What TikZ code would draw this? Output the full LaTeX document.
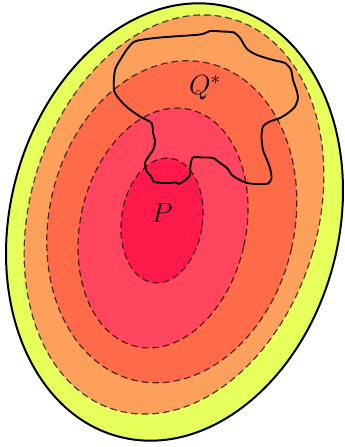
\documentclass[tikz,border=0pt]{standalone}
\begin{document}
\begin{tikzpicture}[x=0.75pt,y=-0.75pt,
  contour/.style={draw=black, draw opacity=0.7, line width=0.9pt, dash pattern=on 5pt off 3pt},
  lbl/.style={font=\fontsize{22}{24}\selectfont, inner sep=0pt}]
\definecolor{cyellow}{RGB}{230,255,90}
\definecolor{corange}{RGB}{252,160,92}
\definecolor{ctomato}{RGB}{255,106,72}
\definecolor{cpink}{RGB}{255,70,94}
\definecolor{ccrimson}{RGB}{255,26,75}
\useasboundingbox (0,0) rectangle (344,447);
% nested regions
\fill[cyellow] (174.5,222) ellipse [x radius=123.3pt, y radius=166.3pt, rotate=-14.3];
\fill[corange] (174,214.5) ellipse [x radius=107.8pt, y radius=153pt, rotate=-17];
\fill[ctomato] (171.8,221.8) ellipse [x radius=92pt, y radius=122.1pt, rotate=-13];
\fill[cpink] (163,228) ellipse [x radius=62.1pt, y radius=91.1pt, rotate=-12.5];
\fill[ccrimson] (162,220.5) ellipse [x radius=30.4pt, y radius=47.1pt, rotate=-8];
\draw[contour] (174,214.5) ellipse [x radius=107.8pt, y radius=153pt, rotate=-17];
\draw[contour] (171.8,221.8) ellipse [x radius=92pt, y radius=122.1pt, rotate=-13];
\draw[contour] (163,228) ellipse [x radius=62.1pt, y radius=91.1pt, rotate=-12.5];
\draw[contour] (162,220.5) ellipse [x radius=30.4pt, y radius=47.1pt, rotate=-8];
\draw[black, line width=1.5pt] (174.5,222) ellipse [x radius=123.3pt, y radius=166.3pt, rotate=-14.3];
% Q* region
\draw[black, line width=1.4pt, line join=round] plot[smooth cycle, tension=0.45] coordinates {
 (128,48) (136,41) (160,37.5) (200,34.5) (210,31) (222,31.5) (234,32.5) (240,38)
 (247,49) (257,55) (273,60) (285,63) (291,70) (293,80) (296.5,90) (298,98)
 (295,106.5) (288,113) (280,118) (270,121.5) (263,126.5) (261.5,137) (263,150)
 (267,160) (270,168) (271.5,178) (268,183.5) (257,184) (247,183) (238,179)
 (232,175) (227,168) (220,163) (213,158) (203,157.5) (193,157.5) (190.5,165)
 (189.5,176) (184,181) (179,184) (176,182.5) (167,183) (154,182) (151.5,177)
 (146.5,171) (145,163) (149,156) (153.5,149) (155,141) (153,133) (151.5,123)
 (140,116.5) (128,108) (120,100) (114,90) (115,70) (122,57)};
\node[lbl] (Q) at (205,88) {$Q^*$};
\node[lbl] (P) at (162,213) {$P$};
\end{tikzpicture}
\end{document}
